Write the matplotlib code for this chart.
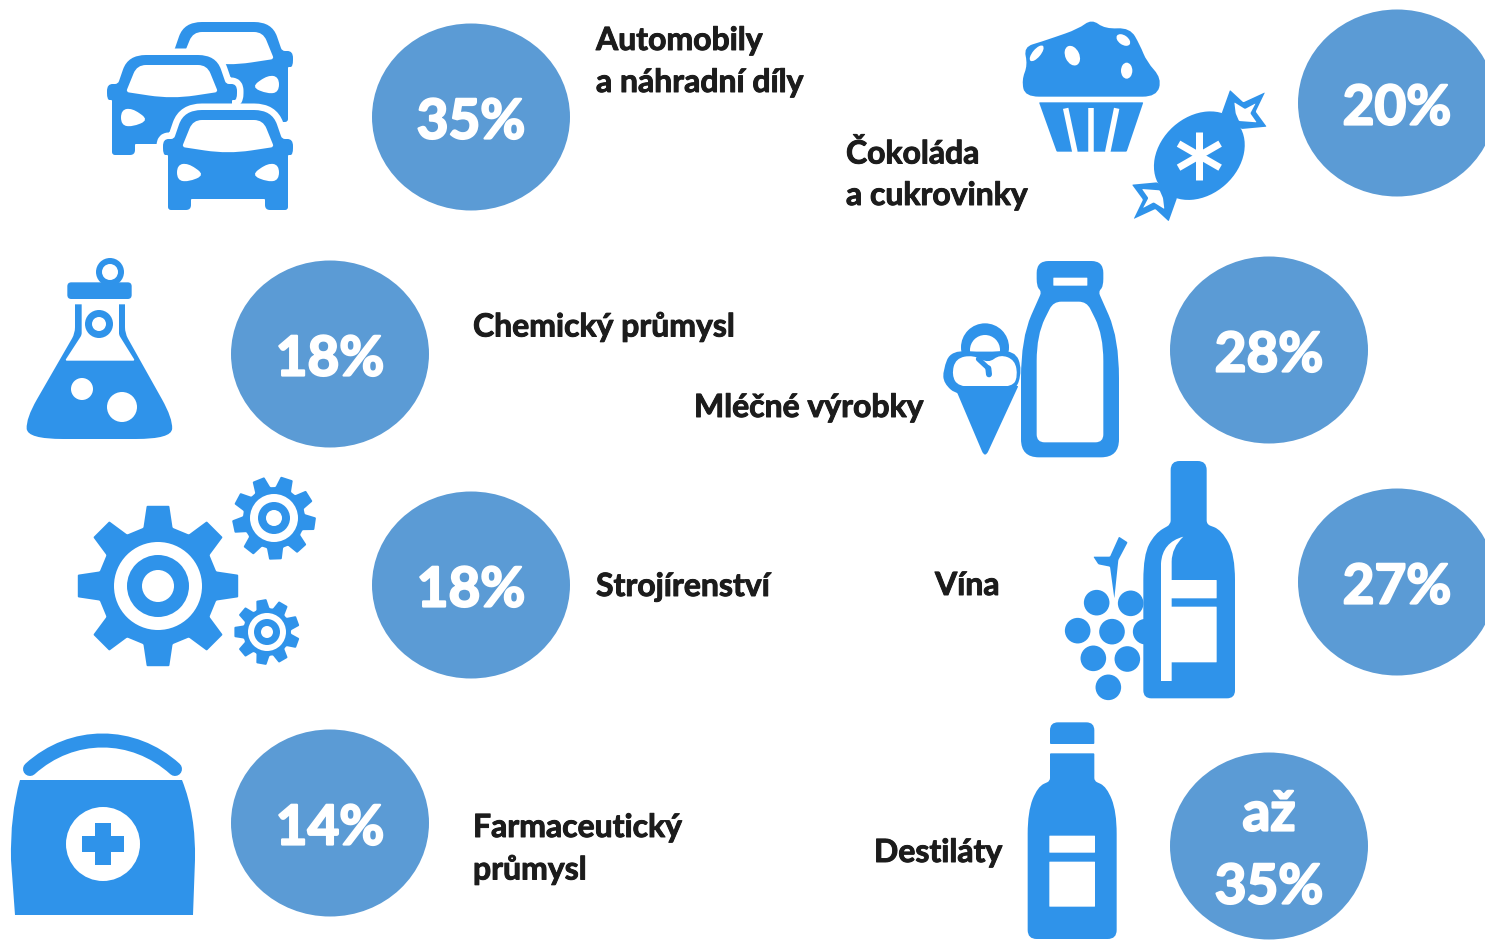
import numpy as np
import matplotlib
matplotlib.use("Agg")
import matplotlib.pyplot as plt
import matplotlib.patheffects as pe
from matplotlib.path import Path
from matplotlib.patches import PathPatch, Ellipse, Circle, Polygon

# ---- content ----
categories = ["Automobily\na náhradní díly", "Chemický průmysl", "Strojírenství",
              "Farmaceutický\nprůmysl", "Čokoláda\na cukrovinky", "Mléčné výrobky",
              "Vína", "Destiláty"]
shares = ["35%", "18%", "18%", "14%", "20%", "28%", "27%", "až\n35%"]

# ---- layout ----
bubble_x = [471, 330, 471, 330, 1397, 1269, 1397, 1269]
bubble_y = [117, 354, 585, 823, 103, 350, 582, 846]
label_x = [596, 473, 596, 473, 846, 694, 935, 874]
label_y = [38, 324, 584, 825, 151, 405, 583, 850]
BUBBLE = "#5B9BD5"
ICON = "#2F93EA"
WHITE = "#FFFFFF"
INK = "#1C1C1C"
FONT = "Lato"

fig = plt.figure(figsize=(14.85, 9.40), dpi=100)
ax = fig.add_axes([0, 0, 1, 1])
ax.set_xlim(0, 1485)
ax.set_ylim(940, 0)
ax.axis("off")
PX = 0.72


def rpoly(pts, r=4, color=ICON, z=2, edge=None, elw=0):
    pts = np.asarray(pts, float)
    n = len(pts)
    rs = np.full(n, r, float) if np.isscalar(r) else np.asarray(r, float)
    verts, codes = [], []
    for i in range(n):
        p0, p, p1 = pts[i - 1], pts[i], pts[(i + 1) % n]
        d0, d1 = p0 - p, p1 - p
        l0, l1 = np.hypot(*d0), np.hypot(*d1)
        a = p + d0 / l0 * min(rs[i], l0 / 2)
        b = p + d1 / l1 * min(rs[i], l1 / 2)
        verts.append(a)
        codes.append(Path.MOVETO if i == 0 else Path.LINETO)
        verts += [p, b]
        codes += [Path.CURVE3, Path.CURVE3]
    verts.append(verts[0])
    codes.append(Path.CLOSEPOLY)
    patch = PathPatch(Path(verts, codes), facecolor=color,
                      edgecolor=edge if edge else "none", lw=elw * PX, zorder=z,
                      joinstyle="round")
    ax.add_patch(patch)
    return patch


def zm(points, ox, oy):
    return [(ox + x / 3, oy + y / 3) for x, y in points]


def circ(x, y, r, color=ICON, z=2):
    ax.add_patch(Circle((x, y), r, facecolor=color, edgecolor="none", zorder=z))


def stroke(p0, p1, w, color=WHITE, z=3, cap="butt"):
    ax.plot([p0[0], p1[0]], [p0[1], p1[1]], color=color, lw=w * PX, zorder=z,
            solid_capstyle=cap)


# ---- cars ----
def car(cx, top, halo=0, z=2):
    o = [(-44, 0), (44, 0), (54, 29), (65, 29), (65, 45), (60, 45), (60, 100), (37, 100),
         (37, 89), (-37, 89), (-37, 100), (-60, 100), (-60, 45), (-65, 45), (-65, 29), (-54, 29)]
    o = [(cx + x, top + y) for x, y in o]
    rads = [18, 18, 3, 7, 7, 1, 3, 5, 1, 1, 5, 3, 1, 7, 7, 3]
    if halo:
        rpoly(o, rads, WHITE, z, edge=WHITE, elw=halo)
    rpoly(o, rads, ICON, z + .1)
    win = [(-35, 10), (35, 10), (46, 37), (0, 44), (-46, 37)]
    rpoly([(cx + x, top + y) for x, y in win], [9, 9, 3, 48, 3], WHITE, z + .2)
    for s in (-1, 1):
        hl = [(s * 51, 55), (s * 40, 53), (s * 23, 65), (s * 40, 72), (s * 51, 70)]
        rpoly([(cx + x, top + y) for x, y in hl], 9, WHITE, z + .2)


car(228, 22, z=2)
car(172, 55, halo=13, z=3)
car(228, 110, halo=13, z=4)

# ---- flask ----
ox, oy = 20, 255
circ(110, 272, 14)
circ(110, 272, 8, WHITE, 3)
rpoly(zm([(142, 82), (335, 82), (335, 132), (142, 132)], ox, oy), 4)
rpoly(zm([(165, 148), (315, 148), (315, 235), (458, 490), (455, 552), (22, 552), (18, 490), (165, 235)], ox, oy),
      [0, 0, 6, 22, 36, 36, 22, 6])
rpoly(zm([(185, 140), (297, 140), (297, 240), (345, 317), (135, 317), (185, 240)], ox, oy), 2, WHITE, 3)
circ(99, 324, 14, ICON, 4)
circ(99, 324, 7, WHITE, 5)
circ(82, 389, 11, WHITE, 3)
circ(122, 407, 15, WHITE, 3)


# ---- gears ----
def gear(cx, cy, outer, root, rings, teeth, rot, half_out):
    pts = []
    for k in range(teeth):
        a = np.radians(rot) + 2 * np.pi * k / teeth
        half_root = half_out * 1.3 * outer / root
        for ang, rad in [(a - half_root, root), (a - half_out, outer), (a + half_out, outer), (a + half_root, root)]:
            pts.append((cx + rad * np.cos(ang), cy + rad * np.sin(ang)))
    rpoly(pts, 1)
    circ(cx, cy, rings[0], WHITE, 3)
    circ(cx, cy, rings[1], ICON, 4)
    circ(cx, cy, rings[2], WHITE, 5)


gear(158, 586, 81, 60, (44, 31, 16), 8, 0, 0.14)
gear(274, 518, 42, 31, (24, 16, 8), 9, 8, 0.15)
gear(267, 632, 33, 24, (19, 13, 6), 9, 20, 0.155)

# ---- medical bag ----
hv = [(30, 769), (72, 731), (133, 731), (175, 769)]
ax.add_patch(PathPatch(Path(hv, [Path.MOVETO, Path.CURVE4, Path.CURVE4, Path.CURVE4]), facecolor="none",
                       edgecolor=ICON, lw=14 * PX, capstyle="round", zorder=2))
bv = [(20, 780), (182, 780), (196, 815), (195, 860), (193, 915), (15, 915), (11, 860), (10, 815), (20, 780), (20, 780)]
bc = [Path.MOVETO, Path.LINETO, Path.CURVE3, Path.CURVE3, Path.LINETO, Path.LINETO, Path.LINETO, Path.CURVE3,
      Path.CURVE3, Path.CLOSEPOLY]
ax.add_patch(PathPatch(Path(bv, bc), facecolor=ICON, edgecolor="none", zorder=2))
circ(103, 844, 37, WHITE, 3)
ax.add_patch(Polygon([(95, 823), (111, 823), (111, 836), (124, 836), (124, 852), (111, 852), (111, 865), (95, 865),
                      (95, 852), (82, 852), (82, 836), (95, 836)], closed=True, facecolor=ICON, edgecolor="none", zorder=4))

# ---- muffin and candy ----
ox, oy = 1015, 15
rpoly(zm([(30, 245), (20, 195), (38, 150), (26, 96), (80, 80), (190, 42), (230, 12), (270, 42), (345, 38),
          (375, 90), (395, 140), (440, 190), (425, 245)], ox, oy),
      [14, 14, 14, 14, 14, 14, 14, 14, 14, 14, 24, 24, 14])
for ex, ey, ew, eh, ang in [(65, 115, 24, 58, 40), (172, 122, 42, 62, -25), (325, 75, 28, 46, -55), (335, 167, 34, 48, 0)]:
    ax.add_patch(Ellipse((ox + ex / 3, oy + ey / 3), ew / 3, eh / 3, angle=ang, facecolor=WHITE, edgecolor="none", zorder=3))
rpoly(zm([(72, 262), (385, 262), (335, 410), (125, 410)], ox, oy), 1)
for a, b in [((152, 280), (180, 412)), ((228, 280), (228, 412)), ((305, 280), (278, 412))]:
    p = zm([a, b], ox, oy)
    stroke(p[0], p[1], 5.5)

cand = (ox + 553 / 3, oy + 422 / 3)
ax.add_patch(Ellipse(cand, 100, 78, angle=-42, facecolor=ICON, edgecolor="none", zorder=2))
tail = [(620, 295), (645, 225), (685, 262), (750, 232), (722, 290), (755, 335), (680, 342)]
tail_in = [(662, 295), (658, 262), (690, 282), (722, 265), (706, 295), (725, 322), (672, 318)]
for sgn in (1, -1):
    t = [(553 + sgn * (x - 553), 422 + sgn * (y - 422)) for x, y in tail]
    ti = [(553 + sgn * (x - 553), 422 + sgn * (y - 422)) for x, y in tail_in]
    rpoly(zm(t, ox, oy), 1)
    rpoly(zm(ti, ox, oy), 1, WHITE, 3)
for ang in (90, 30, 150):
    dx, dy = 24 * np.cos(np.radians(ang)), 24 * np.sin(np.radians(ang))
    stroke((cand[0] - dx, cand[1] - dy), (cand[0] + dx, cand[1] + dy), 7, WHITE, 4)

# ---- milk and ice cream ----
ox, oy = 935, 255
rpoly(zm([(305, 18), (505, 18), (505, 95), (490, 110), (552, 250), (552, 607), (258, 607), (258, 250), (320, 110), (305, 95)], ox, oy),
      [12, 12, 8, 4, 40, 18, 18, 40, 4, 8])
rpoly(zm([(355, 140), (455, 140), (505, 240), (505, 562), (305, 562), (305, 240)], ox, oy), [8, 8, 26, 8, 8, 26], WHITE, 3)
rpoly(zm([(355, 68), (457, 68), (457, 92), (355, 92)], ox, oy), 0.5, WHITE, 3)
circ(ox + 150 / 3, oy + 277 / 3, 24, ICON, 2)
circ(ox + 150 / 3, oy + 285 / 3, 15, WHITE, 2.1)
rpoly(zm([(24, 345), (48, 285), (150, 292), (240, 285), (262, 345), (240, 415), (68, 422), (26, 385)], ox, oy), 18, ICON, 2.2)
rpoly(zm([(50, 360), (62, 310), (115, 300), (160, 325), (195, 298), (240, 315), (248, 365), (232, 395), (70, 395)], ox, oy),
      12, WHITE, 2.3)
p = zm([(130, 312), (160, 340)], ox, oy)
stroke(p[0], p[1], 5, ICON, 2.4, "round")
p = zm([(160, 340), (162, 358)], ox, oy)
stroke(p[0], p[1], 6, ICON, 2.4, "round")
rpoly(zm([(58, 393), (250, 393), (150, 610)], ox, oy), [1, 1, 8], ICON, 2.5)

# ---- wine ----
ox, oy = 1055, 455
for gx, gy in [(125, 443), (227, 445), (68, 527), (171, 530), (272, 530), (115, 610), (217, 612), (160, 697)]:
    circ(ox + gx / 3, oy + gy / 3, 12.8)
rpoly(zm([(115, 305), (165, 305), (192, 245), (218, 262), (190, 315), (178, 430), (165, 335), (130, 328)], ox, oy), 1)
rpoly(zm([(347, 18), (455, 18), (455, 208), (500, 225), (540, 300), (540, 730), (265, 730), (265, 300), (300, 235), (347, 208)], ox, oy),
      [9, 9, 4, 20, 25, 8, 8, 25, 20, 4], ICON, 3)
hv = zm([(385, 245), (322, 262), (318, 325), (318, 678), (350, 678), (350, 320), (350, 278), (385, 245), (385, 245)], ox, oy)
hc = [Path.MOVETO, Path.CURVE3, Path.CURVE3, Path.LINETO, Path.LINETO, Path.LINETO, Path.CURVE3, Path.CURVE3, Path.CLOSEPOLY]
ax.add_patch(PathPatch(Path(hv, hc), facecolor=WHITE, edgecolor="none", zorder=4))
rpoly(zm([(345, 375), (485, 375), (485, 430), (345, 430)], ox, oy), 0.5, WHITE, 4)
rpoly(zm([(345, 455), (485, 455), (485, 622), (345, 622)], ox, oy), 0.5, WHITE, 4)

# ---- spirits ----
ox, oy = 1015, 715
rpoly(zm([(105, 22), (238, 22), (238, 87), (105, 87)], ox, oy), [8, 8, 1, 1])
rpoly(zm([(105, 115), (238, 115), (238, 198), (275, 215), (305, 290), (305, 672), (38, 672), (38, 290), (68, 215), (105, 198)], ox, oy),
      [1, 1, 3, 18, 22, 9, 9, 22, 18, 3])
rpoly(zm([(103, 362), (240, 362), (240, 413), (103, 413)], ox, oy), 0.5, WHITE, 3)
rpoly(zm([(103, 440), (240, 440), (240, 575), (103, 575)], ox, oy), 0.5, WHITE, 3)

# ---- bubbles and text ----
for bx, by, share in zip(bubble_x, bubble_y, shares):
    ax.add_patch(Ellipse((bx, by), 198, 187, facecolor=BUBBLE, edgecolor="none", zorder=5))
    lines = share.split("\n")
    offs = [1] if len(lines) == 1 else [-36, 37]
    for ln, off in zip(lines, offs):
        t = ax.text(bx, by + off, ln, color=WHITE, fontsize=39.5, family=FONT, weight="bold",
                    ha="center", va="center_baseline", zorder=6)
        t.set_path_effects([pe.withStroke(linewidth=1.6, foreground=WHITE)])

for lx, ly, cat in zip(label_x, label_y, categories):
    for i, ln in enumerate(cat.split("\n")):
        t = ax.text(lx, ly + i * 42, ln, color=INK, fontsize=23, family=FONT, weight="bold",
                    ha="left", va="center_baseline", zorder=6)
        t.set_path_effects([pe.withStroke(linewidth=0.7, foreground=INK)])

fig.savefig("out.png", dpi=100, facecolor="white")
